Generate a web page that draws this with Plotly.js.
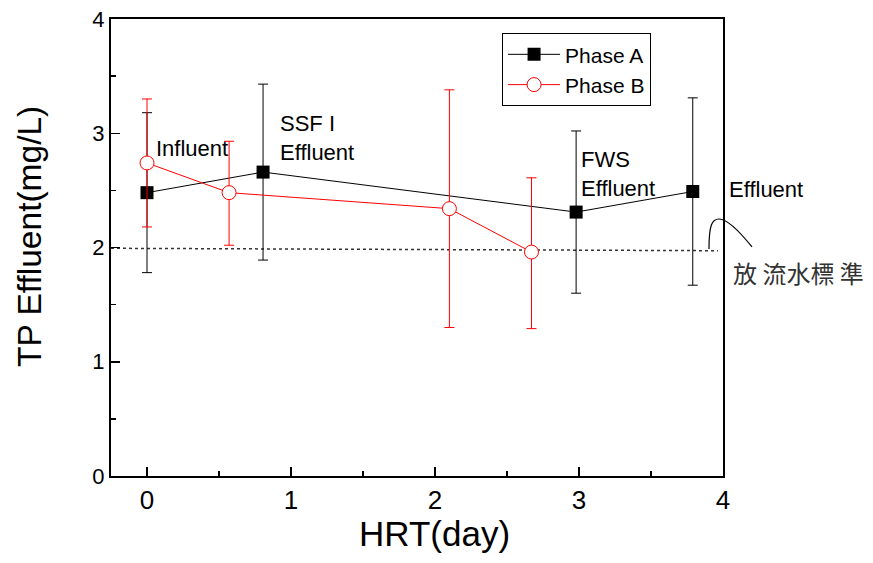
<!DOCTYPE html>
<html>
<head>
<meta charset="utf-8">
<script src="https://cdn.plot.ly/plotly-3.0.1.min.js"></script>
<style>html,body{margin:0;padding:0;background:#fff;}#chart{width:873px;height:563px;}</style>
</head>
<body>
<div id="chart"></div>
<script>
// HRT (day) positions
const hrtA = [0, 0.806, 2.98, 3.79];
const tpA = [2.48, 2.66, 2.31, 2.49];
const tpAUpper = [3.18, 3.43, 3.02, 3.31];
const tpALower = [1.78, 1.89, 1.60, 1.67];

const hrtB = [0, 0.57, 2.10, 2.67];
const tpB = [2.74, 2.48, 2.34, 1.96];
const tpBUpper = [3.30, 2.93, 3.38, 2.61];
const tpBLower = [2.18, 2.02, 1.30, 1.29];

const tickValues = [0, 1, 2, 3, 4];
const tickLabels = ['0', '1', '2', '3', '4'];

const standardLine = {x: [-0.25, 3.965], y: [1.993, 1.972]};

// labels inside plot (data coords)
const labels = [
  {text: 'Influent', x: 0.05, y: 2.87},
  {text: 'SSF I<br>Effluent', x: 0.91, y: 2.96},
  {text: 'FWS<br>Effluent', x: 3.0, y: 2.64}
];
// labels outside plot (paper coords)
const outsideLabels = [
  {text: 'Effluent', x: 1.006, y: 0.626, size: 22, family: 'Liberation Sans, Arial, sans-serif', color: '#000'},
  {text: '放 流水標 準', x: 1.013, y: 0.446, size: 24, family: 'Noto Sans CJK TC, sans-serif', color: '#333'}
];
const xTitle = 'HRT(day)';
const yTitle = 'TP Effluent(mg/L)';

const diff = (a, b) => a.map((v, i) => v - b[i]);

const font = 'Liberation Sans, Arial, sans-serif';

const traceA = {
  x: hrtA, y: tpA, name: 'Phase A', type: 'scatter', mode: 'lines+markers',
  line: {color: '#000', width: 1},
  marker: {symbol: 'square', size: 13, color: '#000'},
  error_y: {type: 'data', symmetric: false, array: diff(tpAUpper, tpA), arrayminus: diff(tpA, tpALower),
            color: '#000', thickness: 1, width: 5},
  cliponaxis: false
};
const traceB = {
  x: hrtB, y: tpB, name: 'Phase B', type: 'scatter', mode: 'lines+markers',
  line: {color: '#ff0000', width: 1},
  marker: {symbol: 'circle', size: 14, color: '#fff', line: {color: '#ff0000', width: 1}},
  error_y: {type: 'data', symmetric: false, array: diff(tpBUpper, tpB), arrayminus: diff(tpB, tpBLower),
            color: '#ff0000', thickness: 1, width: 5},
  cliponaxis: false
};

const annotations = labels.map(l => ({
  text: l.text, x: l.x, y: l.y, xref: 'x', yref: 'y', showarrow: false,
  xanchor: 'left', yanchor: 'middle', align: 'left',
  font: {family: font, size: 22, color: '#000'}
}));
outsideLabels.forEach(l => annotations.push({
  text: l.text, x: l.x, y: l.y, xref: 'paper', yref: 'paper', showarrow: false,
  xanchor: 'left', yanchor: 'middle', align: 'left',
  font: {family: l.family, size: l.size, color: l.color}
}));
annotations.push({
  text: xTitle, x: 0.5294, y: -0.125, xref: 'paper', yref: 'paper', showarrow: false,
  xanchor: 'center', yanchor: 'middle', font: {family: font, size: 35, color: '#000'}
});
annotations.push({
  text: yTitle, x: -0.134, y: 0.525, xref: 'paper', yref: 'paper', showarrow: false,
  textangle: -90, xanchor: 'center', yanchor: 'middle', font: {family: font, size: 33.5, color: '#000'}
});

const layout = {
  width: 873, height: 563,
  margin: {l: 111, r: 150, t: 19, b: 87},
  paper_bgcolor: '#fff', plot_bgcolor: '#fff',
  showlegend: true,
  legend: {x: 0.639, y: 0.969, xanchor: 'left', yanchor: 'top',
           bordercolor: '#000', borderwidth: 1, bgcolor: '#fff', itemwidth: 52,
           font: {family: font, size: 21, color: '#000'}, tracegroupgap: 0},
  xaxis: {
    range: [-0.25, 4], tickvals: tickValues, ticktext: tickLabels,
    ticks: 'inside', ticklen: 9, tickwidth: 1.5, tickcolor: '#000',
    minor: {dtick: 0.5, tick0: 0, ticks: 'inside', ticklen: 5, tickwidth: 1.5, tickcolor: '#000'},
    showline: true, linecolor: '#000', linewidth: 2, mirror: true,
    showgrid: false, zeroline: false,
    tickfont: {family: font, size: 26, color: '#000'}
  },
  yaxis: {
    range: [0, 4], tickvals: tickValues, ticktext: tickLabels,
    ticks: 'inside', ticklen: 9, tickwidth: 1.5, tickcolor: '#000',
    minor: {dtick: 0.5, tick0: 0, ticks: 'inside', ticklen: 5, tickwidth: 1.5, tickcolor: '#000'},
    showline: true, linecolor: '#000', linewidth: 2, mirror: true,
    showgrid: false, zeroline: false,
    tickfont: {family: font, size: 22, color: '#000'}
  },
  shapes: [
    {type: 'line', xref: 'x', yref: 'y', x0: standardLine.x[0], x1: standardLine.x[1],
     y0: standardLine.y[0], y1: standardLine.y[1], line: {color: '#333', width: 1.5, dash: 'dot'}, layer: 'below'},
    {type: 'path', xref: 'paper', yref: 'paper',
     path: 'M 0.9771 0.4967 C 0.9771 0.5492, 0.9820 0.5624, 0.9935 0.5624 C 1.0065 0.5624, 1.0278 0.5339, 1.0474 0.5011',
     line: {color: '#000', width: 1.2}}
  ],
  annotations: annotations
};

Plotly.newPlot('chart', [traceA, traceB], layout, {displayModeBar: false, staticPlot: true});
</script>
</body>
</html>
